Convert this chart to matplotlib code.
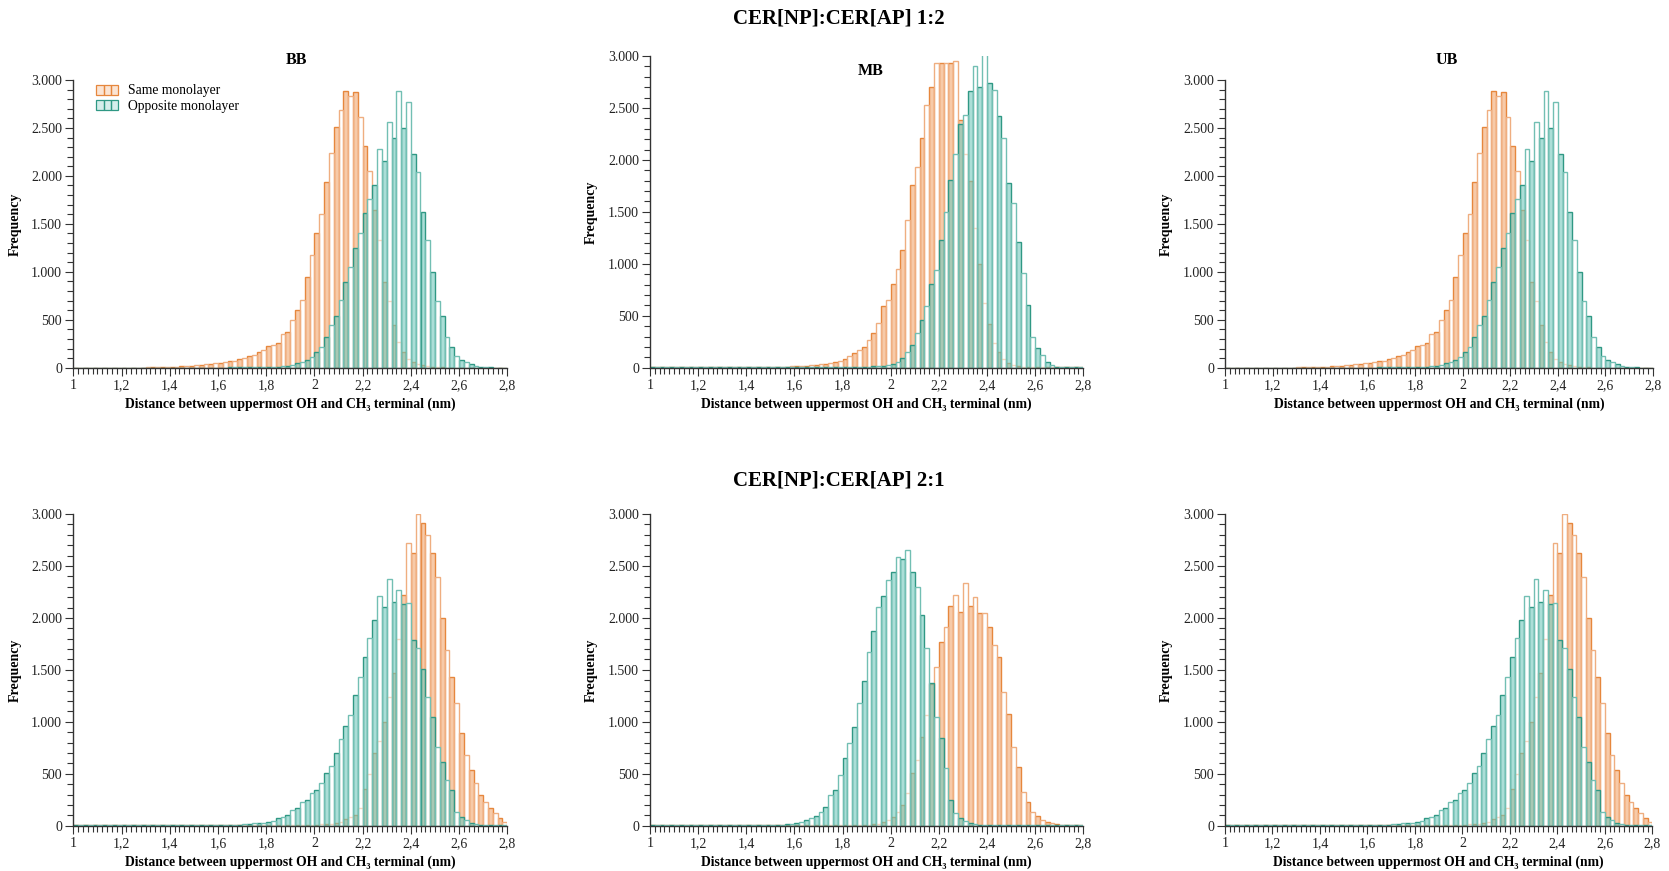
import matplotlib
matplotlib.use('Agg')
import numpy as np
import matplotlib.pyplot as plt
from matplotlib.patches import Rectangle
from matplotlib.legend_handler import HandlerBase
from matplotlib.ticker import MultipleLocator, FuncFormatter

plt.rcParams['font.family'] = ['Liberation Serif', 'DejaVu Serif']

# histogram bins: 0.02 nm wide, from 1.00 nm
bin_start = 1.0
bin_width = 0.02

# CER[NP]:CER[AP] 1:2 -- BB and UB panels show the same counts
same_12_bb = [2, 2, 2, 2, 2, 2, 2, 2, 2, 2,
              2, 2, 2, 2, 2, 3, 3, 4, 5, 8,
              10, 12, 15, 18, 20, 25, 30, 35, 40, 45,
              50, 55, 65, 75, 95, 100, 120, 130, 160, 180,
              230, 240, 260, 350, 370, 500, 600, 710, 950, 1170,
              1400, 1600, 1940, 2240, 2510, 2690, 2885, 2833, 2880, 2617,
              2311, 2050, 1640, 1330, 890, 700, 445, 270, 165, 95,
              60, 40, 25, 15, 10, 5, 3, 2, 2, 2,
              2, 2, 2, 2, 2, 2, 2, 2, 2, 2]
opp_12_bb = [2, 2, 2, 2, 2, 2, 2, 2, 2, 2,
             2, 2, 2, 2, 2, 2, 2, 2, 2, 2,
             2, 2, 2, 2, 2, 2, 2, 2, 2, 2,
             2, 2, 3, 3, 3, 4, 4, 5, 5, 6,
             8, 10, 12, 15, 20, 30, 45, 60, 80, 115,
             167, 220, 323, 445, 540, 705, 897, 1053, 1245, 1400,
             1616, 1762, 1905, 2280, 2158, 2558, 2391, 2885, 2496, 2774,
             2225, 2037, 1620, 1330, 1000, 700, 540, 323, 220, 120,
             80, 55, 35, 20, 12, 6, 3, 2, 2, 2]
same_12_mb = [2, 2, 2, 2, 2, 2, 2, 2, 2, 2,
              2, 2, 2, 2, 2, 2, 2, 2, 2, 2,
              3, 3, 4, 4, 5, 5, 6, 8, 10, 12,
              15, 18, 20, 22, 28, 32, 38, 45, 55, 65,
              80, 110, 140, 170, 200, 265, 330, 430, 590, 650,
              810, 950, 1130, 1420, 1760, 1935, 2210, 2530, 2700, 2930,
              2930, 2935, 2930, 2950, 2385, 2060, 1800, 1340, 1000, 620,
              420, 235, 150, 80, 45, 25, 12, 5, 3, 2,
              2, 2, 2, 2, 2, 2, 2, 2, 2, 2]
opp_12_mb = [2, 2, 2, 2, 2, 2, 2, 2, 2, 2,
             2, 2, 2, 2, 2, 2, 2, 2, 2, 2,
             2, 2, 2, 2, 2, 2, 2, 2, 2, 2,
             2, 2, 2, 2, 2, 2, 2, 2, 2, 2,
             3, 4, 5, 6, 8, 10, 12, 15, 18, 25,
             40, 58, 90, 155, 220, 330, 460, 590, 810, 940,
             1230, 1500, 1810, 2060, 2350, 2430, 2660, 2900, 2705, 3200,
             2743, 2672, 2425, 2207, 1774, 1582, 1213, 908, 603, 298,
             186, 122, 58, 26, 10, 4, 2, 2, 2, 2]

# CER[NP]:CER[AP] 2:1
same_21_bb = [2, 2, 2, 2, 2, 2, 2, 2, 2, 2,
              2, 2, 2, 2, 2, 2, 2, 2, 2, 2,
              2, 2, 2, 2, 2, 2, 2, 2, 2, 2,
              2, 2, 2, 2, 2, 2, 2, 2, 2, 2,
              2, 2, 2, 2, 2, 3, 4, 5, 7, 8,
              10, 12, 15, 20, 30, 40, 60, 80, 100, 170,
              350, 500, 700, 820, 1000, 1240, 1466, 1800, 2220, 2717,
              2621, 3000, 2910, 2797, 2627, 2396, 1995, 1690, 1434, 1177,
              889, 680, 536, 414, 295, 231, 167, 119, 71, 38]
opp_21_bb = [2, 2, 2, 2, 2, 2, 2, 2, 2, 2,
             2, 2, 2, 2, 2, 2, 2, 2, 2, 2,
             2, 2, 2, 2, 2, 2, 2, 2, 2, 2,
             8, 5, 6, 8, 10, 15, 20, 25, 28, 30,
             35, 48, 70, 87, 103, 151, 167, 231, 247, 311,
             343, 414, 504, 574, 696, 830, 960, 1065, 1258, 1434,
             1627, 1810, 1980, 2210, 2108, 2371, 2156, 2268, 2133, 2140,
             1787, 1707, 1505, 1242, 1049, 760, 616, 440, 343, 135,
             80, 55, 30, 15, 8, 4, 2, 2, 2, 2]
same_21_mb = [2, 2, 2, 2, 2, 2, 2, 2, 2, 2,
              2, 2, 2, 2, 2, 2, 2, 2, 2, 2,
              2, 2, 2, 2, 2, 2, 2, 2, 2, 2,
              2, 2, 2, 2, 2, 2, 2, 2, 2, 2,
              2, 2, 2, 2, 5, 8, 12, 20, 35, 55,
              87, 135, 199, 311, 504, 632, 857, 1065, 1364, 1530,
              1771, 1915, 2110, 2220, 2060, 2340, 2114, 2204, 2050, 2050,
              1915, 1740, 1627, 1290, 1075, 760, 568, 327, 231, 135,
              93, 55, 35, 25, 15, 10, 5, 3, 2, 2]
opp_21_mb = [2, 2, 2, 2, 2, 2, 2, 2, 2, 2,
             2, 2, 2, 2, 2, 2, 2, 2, 2, 2,
             2, 2, 3, 3, 4, 6, 8, 10, 15, 20,
             29, 38, 55, 70, 93, 135, 183, 295, 343, 488,
             648, 792, 953, 1184, 1392, 1675, 1877, 2108, 2210, 2365,
             2445, 2589, 2567, 2653, 2445, 2300, 2028, 1707, 1370, 1049,
             840, 552, 247, 119, 71, 45, 25, 15, 8, 4,
             2, 2, 2, 2, 2, 2, 2, 2, 2, 2,
             2, 2, 2, 2, 2, 2, 2, 2, 2, 2]

row_titles = ['CER[NP]:CER[AP] 1:2', 'CER[NP]:CER[AP] 2:1']
panel_names = ['BB', 'MB', 'UB']
series_names = ['Same monolayer', 'Opposite monolayer']

# colours
or_edge, or_face, or_hollow_edge = '#E6873D', '#F2A86E', '#EFAE80'
te_edge, te_face, te_hollow_edge = '#2F9884', '#74C8BD', '#72BFB3'

W, H = 1669, 871
fig = plt.figure(figsize=(W / 100, H / 100), dpi=100)

# axes boxes in pixels: left, right, top (3000), bottom (0)
boxes = [
    [(73.3, 507.3, 80, 367.7), (650, 1083.3, 56, 367.7), (1225, 1653, 80, 367.7)],
    [(73.3, 507.3, 514, 825.7), (650, 1083.3, 514, 825.7), (1225, 1652.3, 514, 825.7)],
]
data = [
    [(same_12_bb, opp_12_bb), (same_12_mb, opp_12_mb), (same_12_bb, opp_12_bb)],
    [(same_21_bb, opp_21_bb), (same_21_mb, opp_21_mb), (same_21_bb, opp_21_bb)],
]
title_pos = [[(296, 60), (871, 71), (1447, 60)], [None, None, None]]


def draw_hist(ax, values, face, edge, hollow_edge):
    values = np.asarray(values, dtype=float)
    left = bin_start + bin_width * np.arange(len(values))
    odd = np.arange(len(values)) % 2 == 1
    # filled bars
    ax.bar(left[~odd], values[~odd], width=bin_width, align='edge',
           facecolor=(*matplotlib.colors.to_rgb(face), 0.6), edgecolor=edge,
           linewidth=1.0)
    # light bars
    ax.bar(left[odd], values[odd], width=bin_width, align='edge',
           facecolor=(1, 1, 1, 0.5), edgecolor=hollow_edge, linewidth=1.0)


class ThreeBars(HandlerBase):
    def create_artists(self, legend, orig_handle, xdescent, ydescent,
                       width, height, fontsize, trans):
        fc, ec = orig_handle
        w = width / 3
        return [Rectangle((-xdescent + k * w, -ydescent), w, height,
                          facecolor=fc, edgecolor=ec, linewidth=0.9,
                          transform=trans) for k in range(3)]


xfmt = FuncFormatter(lambda v, p: ('%g' % round(v, 2)).replace('.', ','))
yfmt = FuncFormatter(lambda v, p: '{:,}'.format(int(round(v))).replace(',', '.'))

for r in range(2):
    for c in range(3):
        l, rr, t, b = boxes[r][c]
        ax = fig.add_axes([l / W, 1 - b / H, (rr - l) / W, (b - t) / H])
        same, opp = data[r][c]
        draw_hist(ax, same, or_face, or_edge, or_hollow_edge)
        draw_hist(ax, opp, te_face, te_edge, te_hollow_edge)

        ax.set_xlim(1, 2.8)
        ax.set_ylim(0, 3000)
        for s in ['top', 'right']:
            ax.spines[s].set_visible(False)
        for s in ['left', 'bottom']:
            ax.spines[s].set_color('#333333')
            ax.spines[s].set_linewidth(1.0)
        ax.xaxis.set_major_locator(MultipleLocator(0.2))
        ax.xaxis.set_minor_locator(MultipleLocator(0.02))
        ax.yaxis.set_major_locator(MultipleLocator(500))
        ax.yaxis.set_minor_locator(MultipleLocator(100))
        ax.xaxis.set_major_formatter(xfmt)
        ax.yaxis.set_major_formatter(yfmt)
        ax.tick_params(which='both', direction='out', color='#333333',
                       labelsize=10, labelcolor='#222222', width=0.8)
        ax.tick_params(which='major', length=6, pad=2)
        ax.tick_params(which='minor', length=4)

        ax.set_xlabel('Distance between uppermost OH and CH\u2083 terminal (nm)',
                      fontsize=9.8, fontweight='bold')
        ax.xaxis.set_label_coords(0.5, -30 / (b - t))
        ax.set_ylabel('Frequency', fontsize=10, fontweight='bold')
        ax.yaxis.set_label_coords(-52 / (rr - l), 0.5)

        if title_pos[r][c] is not None:
            tx, ty = title_pos[r][c]
            fig.text(tx / W, 1 - ty / H, panel_names[c], ha='center', va='center',
                     fontsize=11.5, fontweight='bold')

        if r == 0 and c == 0:
            handles = [((*matplotlib.colors.to_rgb(or_face), 0.3), or_edge),
                       ((*matplotlib.colors.to_rgb(te_face), 0.3), te_edge)]
            ax.legend(handles, series_names, handler_map={tuple: ThreeBars()},
                      loc='upper left', bbox_to_anchor=(0.053, 0.985), frameon=False,
                      fontsize=9.8, handlelength=1.6, handleheight=0.75,
                      handletextpad=0.75, labelspacing=0.2, borderaxespad=0,
                      borderpad=0)

fig.text(839 / W, 1 - 19 / H, row_titles[0], ha='center', va='center',
         fontsize=15, fontweight='bold')
fig.text(839 / W, 1 - 480 / H, row_titles[1], ha='center', va='center',
         fontsize=15, fontweight='bold')

fig.savefig('out.png', dpi=100)
